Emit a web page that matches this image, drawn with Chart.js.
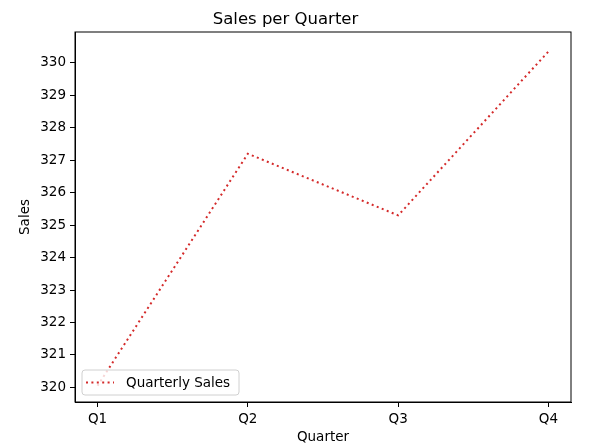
<!DOCTYPE html>
<html>
<head>
<meta charset="utf-8">
<script src="https://cdn.jsdelivr.net/npm/chart.js@4"></script>
<style>
  html, body { margin: 0; padding: 0; background: #fff; }
  #wrap { width: 605px; height: 443px; }
</style>
</head>
<body>
<div id="wrap"><canvas id="salesChart"></canvas></div>
<script>
const quarters = ['Q1', 'Q2', 'Q3', 'Q4']
const sales = [320.05, 327.2, 325.3, 330.35]
const yTicks = [320, 321, 322, 323, 324, 325, 326, 327, 328, 329, 330]

const FONT = 'DejaVu Sans'
const lineColor = '#d42a2a'

// frame on top / right plus a matplotlib-like legend in the lower left
const frameAndLegend = {
    id: 'frameAndLegend',
    afterDraw(chart) {
        const { ctx, chartArea: a } = chart
        ctx.save()
        ctx.strokeStyle = '#000'
        ctx.lineWidth = 1
        ctx.strokeRect(a.left, a.top, a.right - a.left, a.bottom - a.top)

        const ds = chart.data.datasets[0]
        const x = a.left + 7, y = a.bottom - 32, w = 157, h = 25
        ctx.beginPath()
        ctx.roundRect(x, y, w, h, 3)
        ctx.fillStyle = 'rgba(255,255,255,0.8)'
        ctx.fill()
        ctx.strokeStyle = '#d0d0d0'
        ctx.stroke()

        ctx.beginPath()
        ctx.setLineDash(ds.borderDash)
        ctx.strokeStyle = ds.borderColor
        ctx.lineWidth = ds.borderWidth
        ctx.moveTo(x + 4, y + h / 2)
        ctx.lineTo(x + 32, y + h / 2)
        ctx.stroke()
        ctx.setLineDash([])

        ctx.fillStyle = '#000'
        ctx.font = '13.5px "' + FONT + '"'
        ctx.textBaseline = 'middle'
        ctx.fillText(ds.label, x + 44, y + h / 2 + 1)
        ctx.restore()
    }
}

new Chart(document.getElementById('salesChart'), {
    type: 'line',
    data: {
        datasets: [{
            label: 'Quarterly Sales',
            data: sales.map((v, i) => ({ x: i, y: v })),
            borderColor: lineColor,
            backgroundColor: lineColor,
            borderWidth: 2,
            borderDash: [2, 3.4],
            pointRadius: 0,
            tension: 0,
            fill: false
        }]
    },
    options: {
        responsive: true,
        maintainAspectRatio: false,
        animation: false,
        layout: { padding: { left: 0, right: 34, top: 0, bottom: 0 } },
        plugins: {
            legend: { display: false },
            tooltip: { enabled: false },
            title: {
                display: true,
                text: 'Sales per Quarter',
                color: '#000',
                font: { family: FONT, size: 16.5, weight: 'normal' },
                padding: { top: 10, bottom: 2.2 }
            }
        },
        scales: {
            x: {
                type: 'linear',
                min: -0.15,
                max: 3.15,
                afterBuildTicks: s => { s.ticks = quarters.map((_, i) => ({ value: i })) },
                afterFit: s => { s.height = 41 },
                ticks: {
                    callback: v => quarters[v],
                    color: '#000',
                    padding: 4,
                    maxRotation: 0,
                    font: { family: FONT, size: 13.5 }
                },
                grid: { drawOnChartArea: false, drawTicks: true, tickLength: 5, color: '#000' },
                border: { display: true, color: '#000' },
                title: {
                    display: true,
                    text: 'Quarter',
                    color: '#000',
                    font: { family: FONT, size: 13.5 },
                    padding: { top: 0, bottom: -3 }
                }
            },
            y: {
                min: 319.55,
                max: 330.95,
                afterBuildTicks: s => { s.ticks = yTicks.map(v => ({ value: v })) },
                afterFit: s => { s.width = 75 },
                ticks: {
                    color: '#000',
                    padding: 4,
                    font: { family: FONT, size: 13.5 }
                },
                grid: { drawOnChartArea: false, drawTicks: true, tickLength: 5, color: '#000' },
                border: { display: true, color: '#000' },
                title: {
                    display: true,
                    text: 'Sales',
                    color: '#000',
                    font: { family: FONT, size: 13.5 },
                    padding: { top: 17, bottom: 0 }
                }
            }
        }
    },
    plugins: [frameAndLegend]
})
</script>
</body>
</html>
